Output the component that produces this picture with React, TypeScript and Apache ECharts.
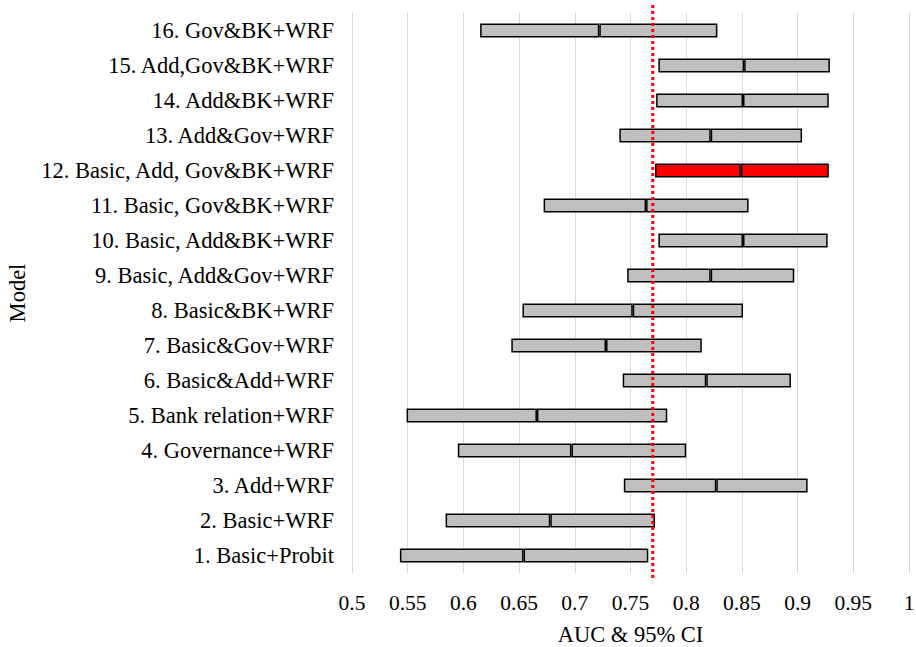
import React, { useEffect, useRef } from "react";
import * as echarts from "echarts";

const categories = [
  "1. Basic+Probit",
  "2. Basic+WRF",
  "3. Add+WRF",
  "4. Governance+WRF",
  "5. Bank relation+WRF",
  "6. Basic&Add+WRF",
  "7. Basic&Gov+WRF",
  "8. Basic&BK+WRF",
  "9. Basic, Add&Gov+WRF",
  "10. Basic, Add&BK+WRF",
  "11. Basic, Gov&BK+WRF",
  "12. Basic, Add, Gov&BK+WRF",
  "13. Add&Gov+WRF",
  "14. Add&BK+WRF",
  "15. Add,Gov&BK+WRF",
  "16. Gov&BK+WRF",
];
const lower = [0.543, 0.584, 0.744, 0.595, 0.549, 0.743, 0.643, 0.653, 0.747, 0.775, 0.672, 0.772, 0.74, 0.773, 0.775, 0.615];
const auc = [0.654, 0.678, 0.827, 0.697, 0.666, 0.818, 0.728, 0.752, 0.822, 0.851, 0.764, 0.849, 0.822, 0.851, 0.852, 0.722];
const upper = [0.766, 0.772, 0.909, 0.8, 0.783, 0.894, 0.814, 0.851, 0.897, 0.927, 0.856, 0.928, 0.904, 0.928, 0.929, 0.828];
const highlighted = ["12. Basic, Add, Gov&BK+WRF"];
const threshold = 0.77;
const xTickLabels = ["0.5", "0.55", "0.6", "0.65", "0.7", "0.75", "0.8", "0.85", "0.9", "0.95", "1"];

const FONT = "Liberation Serif";
const GRAY = "#bfbfbf";
const RED = "#ff0000";

export default function App() {
  const ref = useRef<HTMLDivElement>(null);
  useEffect(() => {
    if (!ref.current) return;
    const chart = echarts.init(ref.current, undefined, { renderer: "svg" });
    const seg = (vals: number[]) =>
      vals.map((v, i) => ({
        value: +v.toFixed(4),
        itemStyle: {
          color: highlighted.includes(categories[i]) ? RED : GRAY,
        },
      }));
    const lowHalf = auc.map((a, i) => a - lower[i]);
    const highHalf = upper.map((u, i) => u - auc[i]);
    chart.setOption({
      animation: false,
      backgroundColor: "#ffffff",
      grid: [
        { left: 352, right: 7, top: 13, bottom: 74, containLabel: false, outerBoundsMode: "none" },
        { left: 352, right: 7, top: 4, bottom: 69, containLabel: false, outerBoundsMode: "none" },
      ],
      xAxis: [
        {
          type: "value",
          gridIndex: 0,
          min: 0.5,
          max: 1,
          interval: 0.05,
          name: "AUC & 95% CI",
          nameLocation: "middle",
          nameGap: 50,
          nameTextStyle: { fontFamily: FONT, fontSize: 22.5, color: "#000" },
          axisLine: { show: false },
          axisTick: { show: false },
          axisLabel: {
            fontFamily: FONT,
            fontSize: 21.5,
            color: "#000",
            margin: 19,
            formatter: (_v: number, idx: number) => xTickLabels[idx],
          },
          splitLine: { show: true, lineStyle: { color: "#d9d9d9", width: 1 } },
        },
        { type: "value", gridIndex: 1, min: 0.5, max: 1, show: false },
      ],
      yAxis: [
        {
          type: "category",
          gridIndex: 0,
          data: categories,
          name: "Model",
          nameLocation: "middle",
          nameGap: 315,
          nameTextStyle: { fontFamily: FONT, fontSize: 22.5, color: "#000" },
          axisLine: { show: false },
          axisTick: { show: false },
          axisLabel: { fontFamily: FONT, fontSize: 22.5, color: "#000", margin: 18 },
          splitLine: { show: false },
        },
        { type: "value", gridIndex: 1, min: 0, max: 1, show: false },
      ],
      series: [
        {
          type: "bar",
          stack: "ci",
          xAxisIndex: 0,
          yAxisIndex: 0,
          barWidth: 14,
          silent: true,
          itemStyle: { color: "transparent", borderWidth: 0 },
          data: lower,
        },
        {
          type: "bar",
          stack: "ci",
          xAxisIndex: 0,
          yAxisIndex: 0,
          barWidth: 14,
          itemStyle: { borderColor: "#000", borderWidth: 1.5 },
          data: seg(lowHalf),
        },
        {
          type: "bar",
          stack: "ci",
          xAxisIndex: 0,
          yAxisIndex: 0,
          barWidth: 14,
          itemStyle: { borderColor: "#000", borderWidth: 1.5 },
          data: seg(highHalf),
        },
        {
          type: "line",
          xAxisIndex: 1,
          yAxisIndex: 1,
          z: 10,
          symbol: "none",
          lineStyle: { color: RED, width: 3, type: [3, 3] },
          data: [
            [threshold, 0],
            [threshold, 1],
          ],
        },
      ],
    });
    return () => chart.dispose();
  }, []);
  return (
    <div
      ref={ref}
      style={{ position: "fixed", left: 0, top: 0, width: 916, height: 647 }}
    />
  );
}
